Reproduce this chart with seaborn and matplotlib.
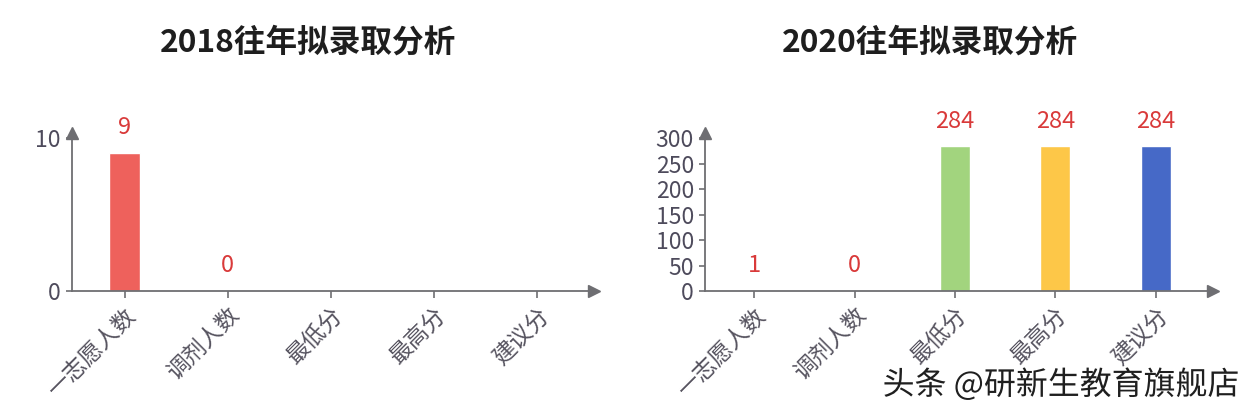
import numpy as np
import pandas as pd
import matplotlib
matplotlib.use('Agg')
import matplotlib.pyplot as plt
import matplotlib.patheffects as pe
import seaborn as sns

categories = ['一志愿人数', '调剂人数', '最低分', '最高分', '建议分']
values_2018 = [9, 0, np.nan, np.nan, np.nan]
values_2020 = [1, 0, 284, 284, 284]
titles = ['2018往年拟录取分析', '2020往年拟录取分析']
yticks_2018 = [0, 10]
yticks_2020 = [0, 50, 100, 150, 200, 250, 300]
bar_colors = ['#EE615C', '#EE615C', '#A2D47E', '#FDC748', '#4669C7']

sns.set_theme(style='white')
plt.rcParams['font.family'] = ['Noto Sans CJK SC', 'DejaVu Sans']

W, H = 1258, 420
fig = plt.figure(figsize=(W / 100, H / 100), dpi=100)
fig.patch.set_facecolor('white')

axis_color = '#6E6E72'
tick_color = '#4E4B5C'
label_red = '#D93A3A'


def px_axes(x0, x1, y_top, y_bot):
    return fig.add_axes([x0 / W, 1 - y_bot / H, (x1 - x0) / W, (y_bot - y_top) / H])


def draw_panel(ax, values, yticks, ylim, xlim):
    df = pd.DataFrame({'cat': categories, 'val': values})
    sns.barplot(data=df, x='cat', y='val', hue='cat', palette=bar_colors,
                legend=False, width=0.3, saturation=1, ax=ax)
    ax.set_xlim(*xlim)
    ax.set_ylim(*ylim)
    ax.set_yticks(yticks)
    ax.set_xlabel('')
    ax.set_ylabel('')
    for s in ['top', 'right']:
        ax.spines[s].set_visible(False)
    for s in ['left', 'bottom']:
        ax.spines[s].set_color(axis_color)
        ax.spines[s].set_linewidth(1.3)
    ax.set_facecolor('none')
    ax.tick_params(axis='y', length=4, width=1.2, color=axis_color, pad=4,
                   labelsize=16.5, labelcolor=tick_color, left=True)
    ax.tick_params(axis='x', length=5, width=1.2, color=axis_color, pad=4,
                   labelsize=16.5, labelcolor='#56535F', bottom=True)
    plt.setp(ax.get_xticklabels(), rotation=45, ha='right', va='top',
             rotation_mode='anchor')
    # arrow heads
    ax.plot(1, 0, marker='>', ms=9, color=axis_color, transform=ax.transAxes,
            clip_on=False)
    ax.plot(0, 1, marker='^', ms=9, color=axis_color, transform=ax.transAxes,
            clip_on=False)
    for i, v in enumerate(values):
        if pd.isna(v):
            continue
        ax.annotate(f'{int(v)}', (i, v), xytext=(0, 18), textcoords='offset points',
                    ha='center', va='center', fontsize=17, color=label_red)


ax1 = px_axes(72, 594, 133, 291)
draw_panel(ax1, values_2018, yticks_2018, (0, 10.3), (-0.51, 4.55))
ax2 = px_axes(705, 1213, 133, 291)
draw_panel(ax2, values_2020, yticks_2020, (0, 310), (-0.49, 4.57))

for title, xc in zip(titles, [308, 930]):
    fig.text(xc / W, 1 - 43 / H, title, ha='center', va='center',
             fontsize=22.8, fontweight='bold', color='#1E1E1E')

fig.text(1240 / W, 1 - 385 / H, '头条 @研新生教育旗舰店', ha='right', va='center',
         fontsize=23, color='#1F1F1F',
         path_effects=[pe.withStroke(linewidth=3, foreground='white')])

fig.savefig('out.png', dpi=100, facecolor='white')
